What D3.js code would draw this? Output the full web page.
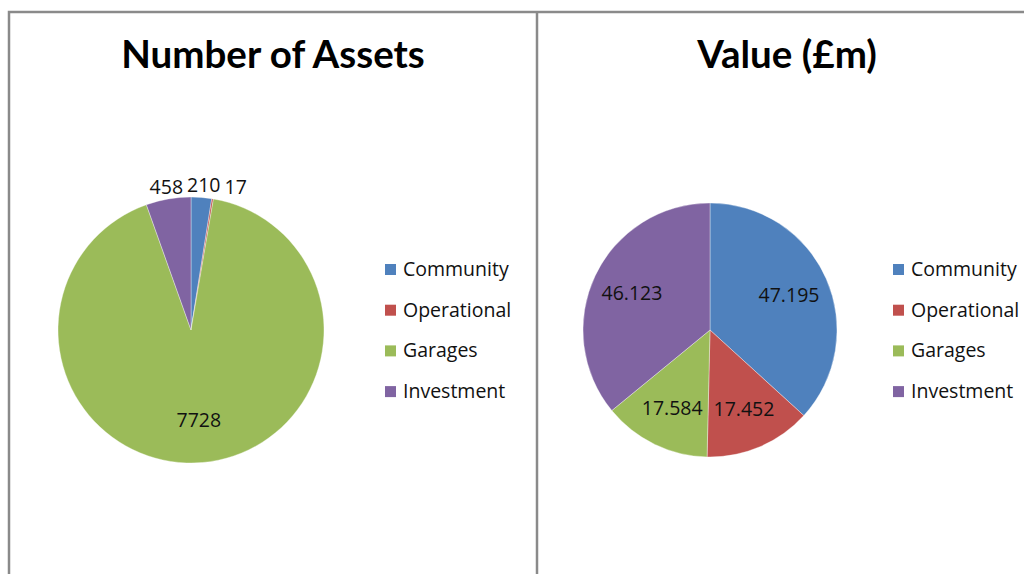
<!DOCTYPE html>
<html lang="en">

<head>
    <meta charset="UTF-8">
    <title>Assets pies</title>
    <style>
        body {
            padding: 0px;
            margin: 0px;
            background-color: white;
        }

        svg {
            display: block;
            font-family: "Open Sans", Lato, sans-serif;
        }

        .title {
            font-family: Lato, sans-serif;
            font-weight: bold;
            font-size: 38.5px;
        }

        .legend text,
        .label {
            font-size: 19.5px;
            fill: #111;
        }
    </style>
</head>

<body>
    <div id="svg"></div>

    <script src="https://cdn.jsdelivr.net/npm/d3@7"></script>
    <script>

        // data
        const categories = ["Community", "Operational", "Garages", "Investment"];
        const assetCounts = [210, 17, 7728, 458];
        const assetValues = [47.195, 17.452, 17.584, 46.123];
        const titles = ["Number of Assets", "Value (£m)"];
        const colors = ["#4F81BD", "#C0504D", "#9BBB59", "#8064A2"];

        const w = 1024;
        const h = 574;

        const svg = d3.select("#svg")
            .append("svg")
            .attr("width", w)
            .attr("height", h);

        // panel frames
        const frame = svg.append("g")
            .attr("fill", "none")
            .attr("stroke", "#8a8a8a")
            .attr("stroke-width", 2.5);
        frame.append("path").attr("d", `M9,${h + 5}V12H${w + 5}`);
        frame.append("path").attr("d", `M537,12V${h + 5}`);

        const color = d3.scaleOrdinal().domain(categories).range(colors);

        const pie = d3.pie().sort(null).value(d => d.value);

        const panels = [
            { title: titles[0], values: assetCounts, cx: 191, cy: 330, r: 133, legendX: 385, titleX: 273 },
            { title: titles[1], values: assetValues, cx: 710, cy: 330, r: 127, legendX: 893, titleX: 787 }
        ];

        panels.forEach(p => drawPanel(p));

        function drawPanel(p) {
            const data = categories.map((c, i) => ({ name: c, value: p.values[i] }));
            const arcs = pie(data);
            const total = d3.sum(p.values);

            svg.append("text")
                .attr("class", "title")
                .attr("x", p.titleX)
                .attr("y", 68)
                .attr("text-anchor", "middle")
                .text(p.title);

            const g = svg.append("g")
                .attr("transform", `translate(${p.cx}, ${p.cy})`);

            const arc = d3.arc().innerRadius(0).outerRadius(p.r);

            g.selectAll("path")
                .data(arcs)
                .enter()
                .append("path")
                .attr("d", arc)
                .attr("fill", d => color(d.data.name))
                .attr("stroke", "rgba(255,255,255,0.6)")
                .attr("stroke-width", 0.6);

            // labels: big slices inside, small ones outside on top
            const inner = d3.arc().innerRadius(p.r * 0.68).outerRadius(p.r * 0.68);
            const outer = d3.arc().innerRadius(p.r + 12).outerRadius(p.r + 12);

            const labels = arcs.map(d => {
                const small = d.data.value / total < 0.08;
                const pos = (small ? outer : inner).centroid(d);
                return { text: String(d.data.value), x: pos[0], y: pos[1] + 7, small };
            });

            const txt = g.selectAll(".label")
                .data(labels)
                .enter()
                .append("text")
                .attr("class", "label")
                .attr("text-anchor", "middle")
                .attr("x", d => d.x)
                .attr("y", d => d.y)
                .text(d => d.text);

            // push overlapping outside labels apart
            const outs = [];
            txt.each(function (d) {
                if (d.small) outs.push({ node: this, d, wd: this.getComputedTextLength() });
            });
            outs.sort((a, b) => a.d.x - b.d.x);
            for (let i = 1; i < outs.length; i++) {
                const prev = outs[i - 1];
                const cur = outs[i];
                const minX = prev.d.x + prev.wd / 2 + cur.wd / 2 + 4;
                if (cur.d.x < minX) {
                    cur.d.x = minX;
                    d3.select(cur.node).attr("x", cur.d.x);
                }
            }

            // legend
            const legend = svg.append("g")
                .attr("class", "legend")
                .attr("transform", `translate(${p.legendX}, 264)`);

            const row = legend.selectAll("g")
                .data(categories)
                .enter()
                .append("g")
                .attr("transform", (d, i) => `translate(0, ${i * 40.7})`);

            row.append("rect")
                .attr("width", 11)
                .attr("height", 11)
                .attr("fill", d => color(d));

            row.append("text")
                .attr("x", 18)
                .attr("y", 12)
                .text(d => d);
        }

    </script>
</body>

</html>
